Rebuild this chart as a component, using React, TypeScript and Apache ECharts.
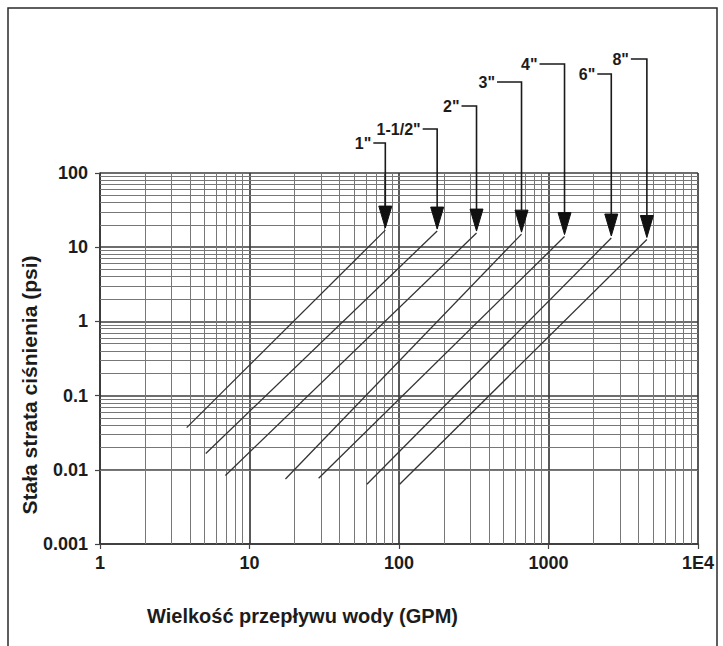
import React, { useEffect, useRef } from 'react';
import * as echarts from 'echarts';

// ---- data ----
const pipeSizes = ['1"', '1-1/2"', '2"', '3"', '4"', '6"', '8"'];
const flowStart = [3.8, 5.1, 6.9, 17.4, 29, 61, 101];
const lossStart = [0.037, 0.0166, 0.0084, 0.0075, 0.0077, 0.0064, 0.0064];
const flowEnd = [81, 180, 330, 660, 1280, 2630, 4550];
const lossEnd = [17, 16.5, 15.5, 15, 13.9, 13.3, 12.7];

const xTickLabels = ['1', '10', '100', '1000', '1E4'];
const yTickLabels = ['0.001', '0.01', '0.1', '1', '10', '100'];
const xDecades = [1, 10, 100, 1000];
const yDecades = [0.001, 0.01, 0.1, 1, 10];
const minorMultipliers = [2, 3, 4, 5, 6, 7, 8, 9];

const xTitle = 'Wielkość przepływu wody (GPM)';
const yTitle = 'Stała strata ciśnienia (psi)';

// ---- layout (pixels) for the size call-outs ----
const labelRise = [30, 44, 67, 91, 109, 99, 114];
const leaderLength = [12, 14.5, 15, 24.5, 25, 14, 16];

const FONT = '"Liberation Sans", Arial, Helvetica, sans-serif';
const INK = '#1c1c1c';

const xMinor: number[] = [];
xDecades.forEach((d) => minorMultipliers.forEach((m) => xMinor.push(parseFloat((d * m).toPrecision(6)))));
const yMinor: number[] = [];
yDecades.forEach((d) => minorMultipliers.forEach((m) => yMinor.push(parseFloat((d * m).toPrecision(6)))));

export default function App() {
  const ref = useRef<HTMLDivElement>(null);
  useEffect(() => {
    if (!ref.current) return;
    const chart = echarts.init(ref.current, null, { renderer: 'svg' });
    const option: any = {
      animation: false,
      backgroundColor: '#ffffff',
      grid: { left: 100, right: 25, top: 173, bottom: 102 },
      xAxis: {
        type: 'log',
        logBase: 10,
        min: 1,
        max: 10000,
        axisLine: { show: true, lineStyle: { color: '#333', width: 1.5 } },
        axisTick: { show: true, length: 5, lineStyle: { color: '#444', width: 1.2 } },
        splitLine: { show: true, lineStyle: { color: '#3c3c3c', width: 1.7 } },
        axisLabel: {
          margin: 10,
          color: INK,
          fontFamily: FONT,
          fontWeight: 'bold',
          fontSize: 18,
          formatter: (v: number) => xTickLabels[Math.round(Math.log10(v))] ?? '',
        },
      },
      yAxis: {
        type: 'log',
        logBase: 10,
        min: 0.001,
        max: 100,
        axisLine: { show: true, lineStyle: { color: '#333', width: 1.5 } },
        axisTick: { show: true, length: 5, lineStyle: { color: '#444', width: 1.2 } },
        splitLine: { show: true, lineStyle: { color: '#3c3c3c', width: 1.7 } },
        axisLabel: {
          margin: 12,
          color: INK,
          fontFamily: FONT,
          fontWeight: 'bold',
          fontSize: 18,
          formatter: (v: number) => yTickLabels[Math.round(Math.log10(v)) + 3] ?? '',
        },
      },
      series: [
        {
          type: 'line',
          name: 'grid',
          data: [],
          silent: true,
          z: 1,
          markLine: {
            silent: true,
            symbol: ['none', 'none'],
            label: { show: false },
            animation: false,
            lineStyle: { color: '#777777', width: 1, type: 'solid' },
            data: [
              ...xMinor.map((v) => ({ xAxis: v })),
              ...yMinor.map((v) => ({ yAxis: v })),
            ],
          },
        },
        ...pipeSizes.map((name, i) => ({
          type: 'line',
          name,
          data: [
            [flowStart[i], lossStart[i]],
            [flowEnd[i], lossEnd[i]],
          ],
          symbol: 'none',
          showSymbol: false,
          silent: true,
          z: 5,
          lineStyle: { color: '#333333', width: 1.3 },
        })),
      ],
    };
    chart.setOption(option);

    const topPx = (chart.convertToPixel({ gridIndex: 0 }, [1, 100]) as number[])[1];
    const graphics: any[] = [
      {
        type: 'rect',
        shape: { x: 8, y: 8, width: 709, height: 700 },
        style: { fill: 'none', stroke: '#2a2a2a', lineWidth: 1.5 },
        silent: true,
      },
      {
        type: 'text',
        x: 147,
        y: 616,
        style: {
          text: xTitle,
          fill: INK,
          font: `bold 20px ${FONT}`,
          align: 'left',
          verticalAlign: 'middle',
        },
      },
      {
        type: 'text',
        x: 29,
        y: 385,
        rotation: Math.PI / 2,
        style: {
          text: yTitle,
          fill: INK,
          font: `bold 21px ${FONT}`,
          align: 'center',
          verticalAlign: 'middle',
        },
      },
    ];
    pipeSizes.forEach((name, i) => {
      const [px, py] = chart.convertToPixel({ gridIndex: 0 }, [flowEnd[i], lossEnd[i]]) as number[];
      const tip = py - 2;
      const headTop = tip - 22;
      const ly = topPx - labelRise[i];
      const lx = px - leaderLength[i];
      graphics.push({
        type: 'polyline',
        z: 10,
        shape: { points: [[lx, ly], [px, ly], [px, headTop]] },
        style: { stroke: '#1a1a1a', lineWidth: 1.6, fill: 'none' },
        silent: true,
      });
      graphics.push({
        type: 'polygon',
        z: 10,
        shape: { points: [[px - 6.5, headTop], [px + 6.5, headTop], [px, tip]] },
        style: { fill: '#111', stroke: '#111', lineWidth: 1 },
        silent: true,
      });
      graphics.push({
        type: 'text',
        z: 10,
        x: lx - 2,
        y: ly,
        style: {
          text: name,
          fill: INK,
          font: `bold 16px ${FONT}`,
          align: 'right',
          verticalAlign: 'middle',
        },
      });
    });
    chart.setOption({ graphic: graphics });

    return () => chart.dispose();
  }, []);

  return (
    <div
      ref={ref}
      style={{ position: 'absolute', left: 0, top: 0, width: 723, height: 646, background: '#fff' }}
    />
  );
}
